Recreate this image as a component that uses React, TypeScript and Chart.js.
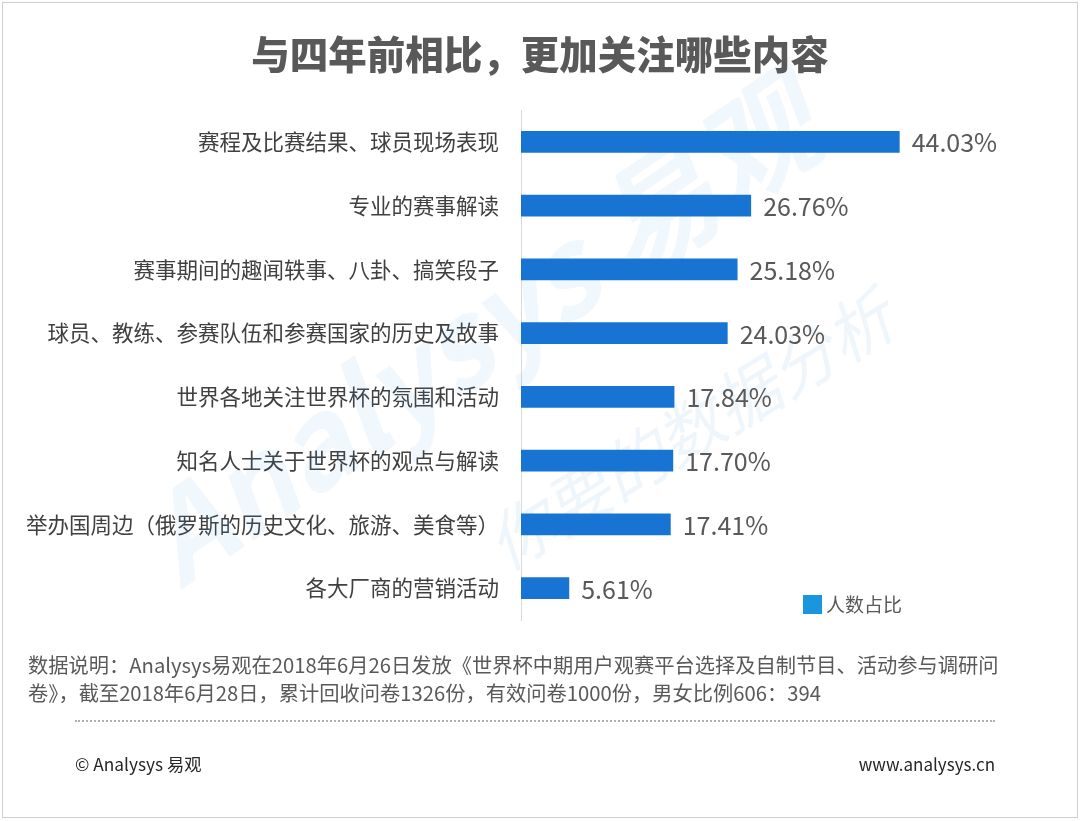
import React, { useEffect, useRef } from "react";
import { Chart, registerables } from "chart.js";

Chart.register(...registerables);

const title = "与四年前相比，更加关注哪些内容";
const categories = [
  "赛程及比赛结果、球员现场表现",
  "专业的赛事解读",
  "赛事期间的趣闻轶事、八卦、搞笑段子",
  "球员、教练、参赛队伍和参赛国家的历史及故事",
  "世界各地关注世界杯的氛围和活动",
  "知名人士关于世界杯的观点与解读",
  "举办国周边（俄罗斯的历史文化、旅游、美食等）",
  "各大厂商的营销活动",
];
const values = [44.03, 26.76, 25.18, 24.03, 17.84, 17.7, 17.41, 5.61];
const seriesName = "人数占比";
const noteLines = [
  "数据说明：Analysys易观在2018年6月26日发放《世界杯中期用户观赛平台选择及自制节目、活动参与调研问",
  "卷》，截至2018年6月28日，累计回收问卷1326份，有效问卷1000份，男女比例606：394",
];
const footerLeft = "© Analysys 易观";
const footerRight = "www.analysys.cn";

const FONT = '"Noto Sans CJK SC", "Noto Sans", sans-serif';

export default function App() {
  const ref = useRef<HTMLCanvasElement | null>(null);

  useEffect(() => {
    const canvas = ref.current;
    if (!canvas) return;

    const watermark = {
      id: "watermark",
      beforeDatasetsDraw(chart: any) {
        const ctx = chart.ctx;
        ctx.save();
        ctx.translate(480, 330);
        ctx.rotate(-0.6);
        ctx.font = `italic bold 120px ${FONT}`;
        ctx.fillStyle = "rgba(40,140,220,0.07)";
        ctx.textAlign = "center";
        ctx.textBaseline = "middle";
        ctx.fillText("Analysys 易观", 0, 0);
        ctx.restore();
        ctx.save();
        ctx.translate(690, 430);
        ctx.rotate(-0.55);
        ctx.font = `italic 66px ${FONT}`;
        ctx.fillStyle = "rgba(40,140,220,0.08)";
        ctx.textAlign = "center";
        ctx.textBaseline = "middle";
        ctx.fillText("你要的数据分析", 0, 0);
        ctx.restore();
      },
    };

    const valueLabels = {
      id: "valueLabels",
      afterDatasetsDraw(chart: any) {
        const ctx = chart.ctx;
        const meta = chart.getDatasetMeta(0);
        ctx.save();
        ctx.font = `25px ${FONT}`;
        ctx.fillStyle = "#595959";
        ctx.textAlign = "left";
        ctx.textBaseline = "middle";
        meta.data.forEach((bar: any, i: number) => {
          const v = chart.data.datasets[0].data[i] as number;
          ctx.fillText(v.toFixed(2) + "%", bar.x + 12, bar.y + 1);
        });
        ctx.restore();
      },
    };

    const chart = new Chart(canvas, {
      type: "bar",
      data: {
        labels: categories,
        datasets: [
          {
            label: seriesName,
            data: values,
            backgroundColor: "#1874d2",
            borderWidth: 0,
            categoryPercentage: 1,
            barPercentage: 0.345,
          },
        ],
      },
      options: {
        indexAxis: "y",
        animation: false,
        responsive: false,
        devicePixelRatio: 1,
        layout: { padding: { left: 0, right: 129, top: 110, bottom: 201 } },
        plugins: {
          legend: { display: false },
          title: { display: false },
          tooltip: { enabled: false },
        },
        scales: {
          x: { display: false, min: 0, max: 50 },
          y: {
            afterFit(scale: any) {
              scale.width = 521;
            },
            grid: { display: false, drawTicks: false },
            border: { display: true, color: "#d9d9d9", width: 1 },
            ticks: {
              padding: 22,
              color: "#404040",
              font: { family: FONT, size: 21.5 },
              autoSkip: false,
            },
          },
        },
      },
      plugins: [watermark, valueLabels],
    } as any);

    return () => chart.destroy();
  }, []);

  return (
    <div
      style={{
        position: "fixed",
        left: 0,
        top: 0,
        width: 1080,
        height: 821,
        background: "#fff",
        overflow: "hidden",
        fontFamily: FONT,
      }}
    >
      <div
        style={{
          position: "absolute",
          left: 2,
          top: 2,
          width: 1074,
          height: 814,
          border: "1.5px solid #cfcfcf",
        }}
      />
      <canvas
        ref={ref}
        width={1080}
        height={821}
        style={{ position: "absolute", left: 0, top: 0, width: 1080, height: 821 }}
      />
      <div
        style={{
          position: "absolute",
          left: 0,
          top: 28,
          width: 1080,
          textAlign: "center",
          fontSize: 38.5,
          fontWeight: 900,
          color: "#595959",
          lineHeight: "48px",
          whiteSpace: "nowrap",
        }}
      >
        {title}
      </div>
      <div
        style={{
          position: "absolute",
          left: 803,
          top: 595,
          width: 19,
          height: 19,
          background: "#1a96dc",
        }}
      />
      <div
        style={{
          position: "absolute",
          left: 826,
          top: 590,
          fontSize: 19,
          lineHeight: "28px",
          color: "#595959",
          whiteSpace: "nowrap",
        }}
      >
        {seriesName}
      </div>
      {noteLines.map((t, i) => (
        <div
          key={i}
          style={{
            position: "absolute",
            left: 28,
            top: 651 + i * 28,
            fontSize: 20.25,
            lineHeight: "28px",
            color: "#595959",
            whiteSpace: "nowrap",
          }}
        >
          {t}
        </div>
      ))}
      <div
        style={{
          position: "absolute",
          left: 75,
          top: 720,
          width: 920,
          borderTop: "2px dotted #b0b0b0",
        }}
      />
      <div
        style={{
          position: "absolute",
          left: 75,
          top: 751,
          fontSize: 17.3,
          lineHeight: "26px",
          color: "#262626",
          whiteSpace: "nowrap",
        }}
      >
        {footerLeft}
      </div>
      <div
        style={{
          position: "absolute",
          right: 1080 - 995,
          top: 751,
          fontSize: 17,
          lineHeight: "26px",
          color: "#262626",
          whiteSpace: "nowrap",
        }}
      >
        {footerRight}
      </div>
    </div>
  );
}
